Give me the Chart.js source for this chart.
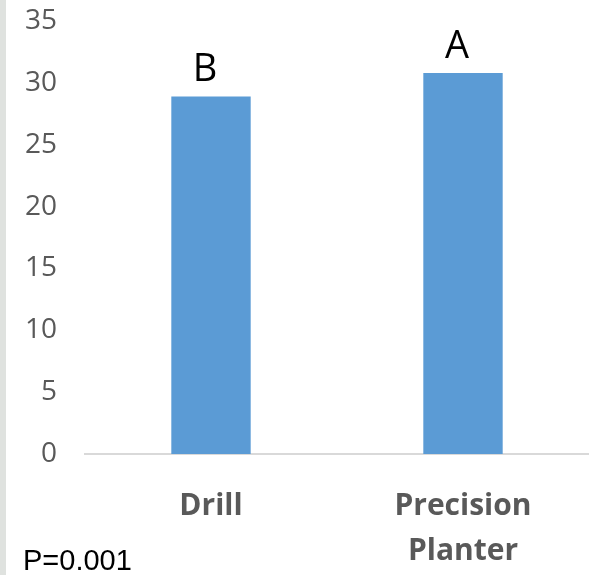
<!DOCTYPE html>
<html>
<head>
<meta charset="utf-8">
<script src="https://cdn.jsdelivr.net/npm/chart.js@4"></script>
<style>
  html, body { margin: 0; padding: 0; background: #fff; }
  #wrap { position: relative; width: 589px; height: 575px; overflow: hidden; }
  #strip { position: absolute; left: 0; top: 0; width: 6px; height: 575px; background: #dfe2df; }
  #pval { position: absolute; left: 23px; top: 544px; font-family: "Liberation Sans", Arial, sans-serif; font-size: 29px; color: #000; }
</style>
</head>
<body>
<div id="wrap">
  <canvas id="myChart" width="589" height="575"></canvas>
  <div id="strip"></div>
  <div id="pval">P=0.001</div>
</div>
<script>
const categories = ['Drill', ['Precision', 'Planter']];
const seedYield = [28.9, 30.8];
const letters = ['B', 'A'];
const yTicks = [0, 5, 10, 15, 20, 25, 30, 35];

// letters over the bars
const letterPlugin = {
  id: 'letters',
  afterDatasetsDraw(chart) {
    const ctx = chart.ctx;
    const meta = chart.getDatasetMeta(0);
    ctx.save();
    ctx.font = '38px "Open Sans", sans-serif';
    ctx.fillStyle = '#000';
    ctx.textAlign = 'center';
    ctx.textBaseline = 'bottom';
    meta.data.forEach((bar, i) => {
      ctx.fillText(letters[i], bar.x - 6, bar.y - 7);
    });
    ctx.restore();
  }
};

const ctxt = document.getElementById('myChart').getContext('2d');

const myChart = new Chart(ctxt, {
  type: 'bar',
  data: {
    labels: categories,
    datasets: [{
      data: seedYield,
      backgroundColor: '#5b9bd5',
      barPercentage: 1,
      categoryPercentage: 0.315
    }]
  },
  options: {
    responsive: false,
    animation: false,
    layout: { padding: { top: 21, right: 0, left: 0, bottom: 0 } },
    plugins: { legend: { display: false }, tooltip: { enabled: false } },
    scales: {
      x: {
        grid: { display: false },
        border: { display: true, color: '#d9d9d9', width: 2 },
        ticks: {
          color: '#595959',
          padding: 22,
          font: { family: '"Open Sans", sans-serif', size: 30, weight: 'bold', lineHeight: 1.5 }
        },
        afterFit: (scale) => { scale.height = 121; }
      },
      y: {
        min: 0,
        max: 35,
        afterBuildTicks: (scale) => { scale.ticks = yTicks.map(v => ({ value: v })); },
        grid: { display: false },
        border: { display: false },
        ticks: {
          color: '#595959',
          padding: 20,
          font: { family: '"Open Sans", sans-serif', size: 28 }
        },
        afterFit: (scale) => {
          scale.width = 85;
          scale.paddingTop = 0;
          scale.paddingBottom = 0;
        }
      }
    }
  },
  plugins: [letterPlugin]
});
</script>
</body>
</html>
